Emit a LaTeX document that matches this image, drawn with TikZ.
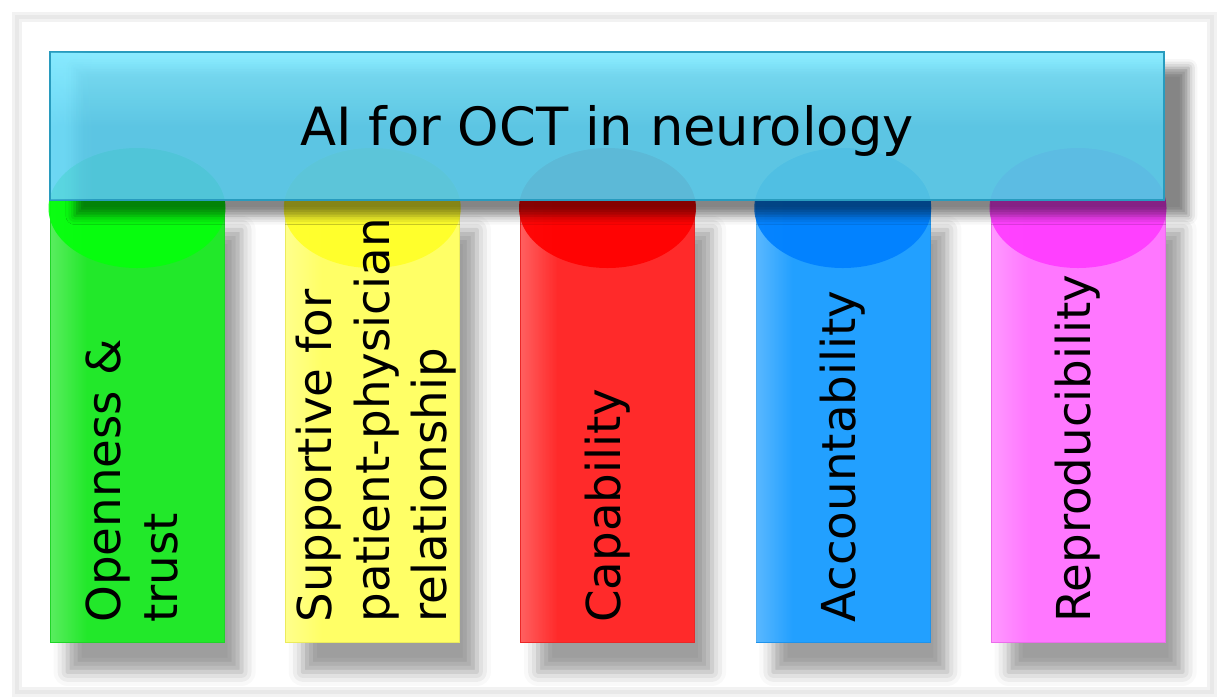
\documentclass[tikz,border=0pt]{standalone}
\usepackage{fontspec}
\setmainfont{DejaVu Sans}
\usetikzlibrary{shadows.blur,fadings}
\definecolor{barMain}{RGB}{88,205,238}
\definecolor{barLight}{RGB}{125,232,255}
\definecolor{barEdge}{RGB}{40,155,190}
\definecolor{pilA}{RGB}{34,232,42}   \definecolor{ellA}{RGB}{5,255,12}
\definecolor{pilB}{RGB}{255,255,102} \definecolor{ellB}{RGB}{255,255,40}
\definecolor{pilC}{RGB}{255,42,42}   \definecolor{ellC}{RGB}{255,0,0}
\definecolor{pilD}{RGB}{34,160,255}  \definecolor{ellD}{RGB}{0,128,255}
\definecolor{pilE}{RGB}{255,119,255} \definecolor{ellE}{RGB}{255,60,255}
\lineskiplimit=-50pt
\begin{document}
\begin{tikzpicture}[x=0.02cm,y=-0.02cm,
    pillar/.style={draw=#1!92!black,line width=0.3pt,fill=#1,
      blur shadow={shadow xshift=10pt,shadow yshift=-17pt,shadow blur radius=8pt,shadow opacity=38}},
    capfill/.style={fill=#1,fill opacity=0.92},
    glow/.style={fill=#1,path fading=east,fill opacity=0.25},
    bar/.style={draw=barEdge,line width=0.6pt,top color=barLight,bottom color=barMain,middle color=barMain,
      fill opacity=0.9,blur shadow={shadow xshift=14pt,shadow yshift=-9pt,shadow blur radius=5pt,shadow opacity=48}},
    pillar label/.style={rotate=90,anchor=west,inner sep=0pt,align=left,
      font=\fontsize{26.6}{32.6}\selectfont},
    title/.style={anchor=base,inner sep=0pt,font=\fontsize{30}{36}\selectfont}]
    \useasboundingbox (0,0) rectangle (1219,698);
    % outer frame
    \draw[black!5,line width=6pt] (17,17) rectangle (1212,692);
    \draw[black!9,line width=2.5pt] (17,17) rectangle (1212,692);
    % pillars
    \foreach \name [count=\i from 0] in {A,B,C,D,E}{
        \pgfmathsetmacro\cx{137+235.25*\i}
        \draw[pillar=pil\name] (\cx-87,200) rectangle (\cx+87,642);
        \fill[glow=white] (\cx-86.5,200.5) rectangle (\cx-50,641.5);
    }
    \foreach \name [count=\i from 0] in {A,B,C,D,E}{
        \pgfmathsetmacro\cx{137+235.25*\i}
        \fill[capfill=ell\name] (\cx,208) ellipse [x radius=88.5,y radius=60];
    }
    \foreach \name/\txt/\dx [count=\i from 0] in {A/{Openness \&\\trust}/-5,B/{Supportive for\\patient-physician\\relationship}/4,
        C/Capability/0,D/Accountability/0,E/Reproducibility/0}{
        \pgfmathsetmacro\cx{137+235.25*\i+\dx}
        \node[pillar label] (lbl\name) at (\cx,623) {\txt};
    }
    % top bar
    \draw[bar] (50,52) rectangle (1164,200);
    \fill[glow=barLight] (50.5,52.5) rectangle (95,199.5);
    \node[title] (title) at (607,145) {AI for OCT in neurology};
\end{tikzpicture}
\end{document}
